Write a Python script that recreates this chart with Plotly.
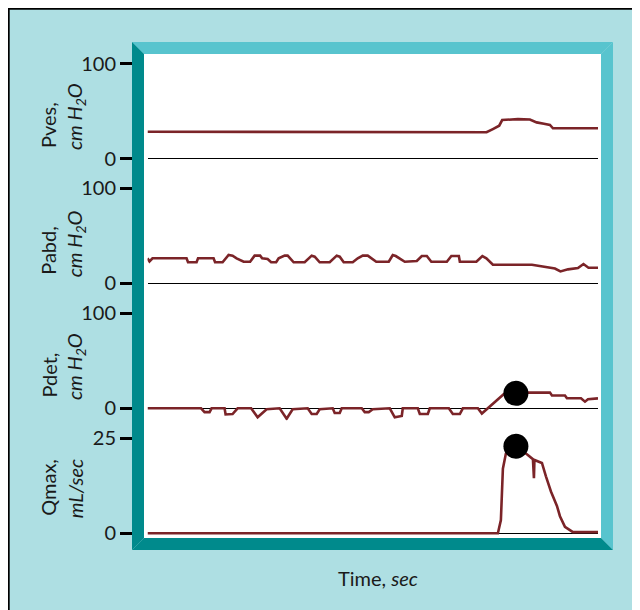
import plotly.graph_objects as go

# ---------------- data (time in arbitrary units 0..450) ----------------
pves_t = [0, 338.7, 345, 351.3, 354.3, 370, 382, 388.7, 396, 402, 405, 450]
pves_v = [28.2, 27.6, 31, 34.5, 40.5, 41.5, 41, 38, 36.5, 35.3, 31.8, 31.8]

pabd_t = [0, 2, 5, 39, 40.5, 49, 50.5, 66, 67.5, 75, 81, 85, 89, 96, 102.5, 107,
          112.5, 114.5, 120, 123.5, 128.5, 131, 137, 140, 146, 157, 164, 167,
          172, 182, 189, 192, 196, 205, 210, 215, 220, 228.5, 241, 245, 248,
          257, 269, 274, 279, 283.5, 299, 303.5, 311, 312, 328.5, 334.5, 338.5,
          345, 384, 397, 407, 412.5, 420, 430, 435.5, 440.5, 450]
pabd_v = [26.3, 23, 26.3, 26.3, 22.1, 22.1, 26.3, 26.3, 22.1, 22.1, 29.8, 29.1,
          26.3, 22.7, 22.7, 29.1, 29.1, 26.3, 25.6, 22.1, 22.1, 26.3, 29.1, 29.1,
          22.1, 22.1, 29.1, 28, 22.1, 22.1, 29.1, 28, 22.1, 22.1, 26.3, 29.1,
          29.1, 22.7, 22.7, 29.8, 28.7, 22.7, 23.5, 28.7, 28.7, 22.7, 22.7, 28.7,
          28.7, 22.7, 22.7, 28.7, 26.3, 19.5, 19.5, 17, 15.5, 12.5, 14.7, 16,
          20.3, 16.4, 16.4]

pdet_t = [0, 53.5, 57, 62, 64, 77, 78, 85, 90, 103.5, 110, 119, 132, 139, 145,
          160, 164, 169, 172, 185, 187, 192, 194, 214, 217, 221, 225, 242, 247,
          254, 255, 270, 272, 280, 282, 301, 305, 312, 315, 330, 334, 356, 368,
          402, 404, 417, 419, 433, 437, 440, 450]
pdet_v = [0, 0, -4, -4, 0, 0, -6.5, -6, 0, 0, -9.5, -1, 0, -11, -1, 0, -6, -6,
          -1, 0, -5, -5, 0, 0, -4, -4, -1, 0, -9.5, -8, 0, 0, -6, -6, 0, 0, -6,
          -6, 0, 0, -5.5, 15, 16.5, 16.5, 13.5, 13.5, 10.5, 10.5, 7, 9.5, 10.5]

qmax_t = [0, 350, 353, 355, 358, 366, 372, 379, 385, 386, 386.5, 392, 394, 398,
          403, 409, 412, 417, 425, 450]
qmax_v = [0, 0, 3.5, 17, 21, 23.5, 22, 20.8, 19.5, 14.5, 19.3, 18.8, 18.5, 15,
          11, 7.2, 4.5, 1.7, 0.3, 0.3]

marker_t = [368]
pdet_marker = [15.8]
qmax_marker = [22.9]

panel_names = ["Pves,", "Pabd,", "Pdet,", "Qmax,"]
panel_units = ["cm H<sub>2</sub>O", "cm H<sub>2</sub>O", "cm H<sub>2</sub>O", "mL/sec"]
tick_vals = [[0, 100], [0, 100], [0, 100], [0, 25]]
tick_text = [["0", "100"], ["0", "100"], ["0", "100"], ["0", "25"]]
x_title = "Time, <i>sec</i>"

# ---------------- styling / layout ----------------
OFF = 8              # the page places the figure 8px from the top-left corner
W, H = 640 - OFF, 610 - OFF
FONT = "Lato"
TXT = "#1a1a1a"
LINE = "#7b2428"
BG = "#aedfe3"
LIGHT = "#58c4ce"
DARK = "#008a8c"


def X(px):
    return (px - OFF) / W


def Y(py):
    return 1 - (py - OFF) / H


zero_px = [158.5, 283.3, 408.3, 533.3]
px_per_unit = [0.95, 0.95, 0.95, 3.8]

fig = go.Figure()
series = [(pves_t, pves_v), (pabd_t, pabd_v), (pdet_t, pdet_v), (qmax_t, qmax_v)]
for i, (t, v) in enumerate(series):
    fig.add_trace(go.Scatter(x=t, y=v, mode="lines", xaxis="x",
                             yaxis="y" if i == 0 else f"y{i+1}",
                             line=dict(color=LINE, width=2.6),
                             hoverinfo="skip", showlegend=False))

fig.add_trace(go.Scatter(x=marker_t, y=pdet_marker, mode="markers", xaxis="x", yaxis="y3",
                         marker=dict(color="black", size=25), showlegend=False))
fig.add_trace(go.Scatter(x=marker_t, y=qmax_marker, mode="markers", xaxis="x", yaxis="y4",
                         marker=dict(color="black", size=25), showlegend=False))

layout = dict(
    width=W, height=H, autosize=False,
    margin=dict(l=0, r=0, t=0, b=0, pad=0),
    paper_bgcolor="white", plot_bgcolor="rgba(0,0,0,0)",
    template="none", showlegend=False,
    font=dict(family=FONT, size=20, color=TXT),
    xaxis=dict(domain=[X(147.5), X(598)], range=[0, 450], visible=False,
               anchor="y4", fixedrange=True),
)
for i in range(4):
    z = zero_px[i]
    s = px_per_unit[i]
    bottom, top = z + 12, z - 107
    key = "yaxis" if i == 0 else f"yaxis{i+1}"
    layout[key] = dict(
        domain=[Y(bottom), Y(top)],
        range=[-(bottom - z) / s, (z - top) / s],
        anchor="free", position=X(132),
        tickmode="array", tickvals=tick_vals[i], ticktext=tick_text[i],
        ticks="outside", ticklen=12, tickwidth=2.6, tickcolor="black",
        tickfont=dict(family=FONT, size=20, color=TXT),
        showgrid=False, showline=False,
        zeroline=True, zerolinecolor="black", zerolinewidth=1.4,
        automargin=False, fixedrange=True,
    )

fig.update_layout(**layout)


def poly(pts):
    return "M " + " L ".join(f"{X(a):.5f},{Y(b):.5f}" for a, b in pts) + " Z"


shapes = [
    dict(type="rect", xref="paper", yref="paper", x0=X(8.6), y0=Y(8.6), x1=1.1, y1=-0.1,
         fillcolor=BG, line=dict(color="black", width=2.2), layer="below"),
    dict(type="rect", xref="paper", yref="paper", x0=X(144), y0=Y(54), x1=X(601), y1=Y(538),
         fillcolor="white", line=dict(width=0), layer="below"),
    dict(type="path", xref="paper", yref="paper",
         path=poly([(132, 42), (613, 42), (601, 54), (144, 54)]),
         fillcolor=LIGHT, line=dict(width=0), layer="below"),
    dict(type="path", xref="paper", yref="paper",
         path=poly([(613, 42), (613, 550), (601, 538), (601, 54)]),
         fillcolor=LIGHT, line=dict(width=0), layer="below"),
    dict(type="path", xref="paper", yref="paper",
         path=poly([(132, 42), (144, 54), (144, 538), (132, 550)]),
         fillcolor=DARK, line=dict(width=0), layer="below"),
    dict(type="path", xref="paper", yref="paper",
         path=poly([(132, 550), (144, 538), (601, 538), (613, 550)]),
         fillcolor=DARK, line=dict(width=0), layer="below"),
]
fig.update_layout(shapes=shapes)

ann = []
start_off = [8.5, 6, 8.3, 15]
for i in range(4):
    z = zero_px[i]
    ann.append(dict(xref="paper", yref="paper", x=X(48), y=Y(z - start_off[i]),
                    xanchor="center", yanchor="bottom", textangle=-90,
                    text=panel_names[i], showarrow=False,
                    font=dict(family=FONT, size=20, color=TXT)))
    ann.append(dict(xref="paper", yref="paper", x=X(75), y=Y(z - start_off[i] + 2.5),
                    xanchor="center", yanchor="bottom", textangle=-90,
                    text=f"<i>{panel_units[i]}</i>", showarrow=False,
                    font=dict(family=FONT, size=20, color=TXT)))
ann.append(dict(xref="paper", yref="paper", x=X(378), y=Y(578),
                xanchor="center", yanchor="middle", text=x_title, showarrow=False,
                font=dict(family=FONT, size=20, color=TXT)))
fig.update_layout(annotations=ann)

fig.write_html("out.html")
